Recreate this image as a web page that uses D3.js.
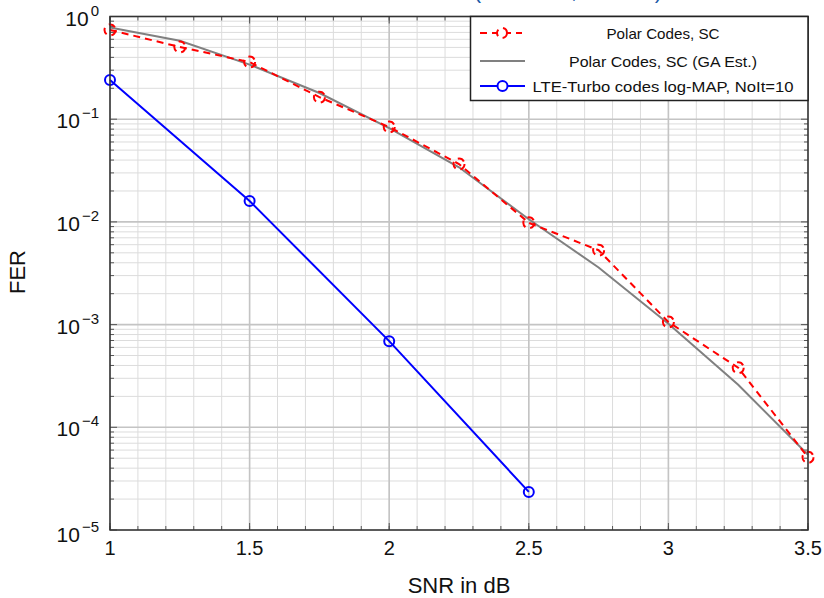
<!DOCTYPE html>
<html>
<head>
<meta charset="utf-8">
<script src="https://cdn.jsdelivr.net/npm/d3@7"></script>
<style>
  html, body { margin: 0; padding: 0; background: #fff; }
  svg { display: block; }
  text { font-family: "Liberation Sans", Arial, sans-serif; }
</style>
</head>
<body>
<svg id="chart" width="824" height="598"></svg>
<script>
// SNR points (dB)
const snrPolar = [1, 1.25, 1.5, 1.75, 2, 2.25, 2.5, 2.75, 3, 3.25, 3.5];
const ferPolarSC = [0.74, 0.505, 0.36, 0.164, 0.084, 0.0366, 0.0098, 0.0053, 0.00106, 0.00038, 0.000051];
const ferPolarGA = [0.78, 0.58, 0.34, 0.18, 0.082, 0.034, 0.0106, 0.0036, 0.00102, 0.00026, 0.000054];
const snrTurbo = [1, 1.5, 2, 2.5];
const ferTurbo = [0.241, 0.016, 0.00069, 0.0000235];

const xTicks = [1, 1.5, 2, 2.5, 3, 3.5];
const xTickLabels = ["1", "1.5", "2", "2.5", "3", "3.5"];
const yExponents = [0, -1, -2, -3, -4, -5];
const legendLabels = ["Polar Codes, SC", "Polar Codes, SC (GA Est.)", "LTE-Turbo codes log-MAP, NoIt=10"];
const legendWidths = [113, 188, 261];

const svg = d3.select("#chart");
const L = 110, R = 808, T = 16.5, B = 530;

const x = d3.scaleLinear().domain([1, 3.5]).range([L, R]);
const y = d3.scaleLog().domain([1e-5, 1]).range([B, T]);

// Title (runs off the top edge)
svg.append("text")
  .attr("x", 568).attr("y", -2)
  .attr("text-anchor", "middle")
  .attr("fill", "#1a5aa8")
  .style("font-size", "22px")
  .text("(N = 1024, R = 0.5)");

// minor grid
const xMinor = d3.range(1, 3.5001, 0.1).map(v => +v.toFixed(2));
const yMinor = [];
for (let e = -5; e < 0; e++) for (let m = 2; m <= 9; m++) yMinor.push(m * Math.pow(10, e));

const grid = svg.append("g");
grid.selectAll(".xm").data(xMinor).join("line")
  .attr("x1", d => x(d)).attr("x2", d => x(d))
  .attr("y1", T).attr("y2", B)
  .attr("stroke", "#dcdcdc").attr("stroke-width", 1);
grid.selectAll(".ym").data(yMinor).join("line")
  .attr("x1", L).attr("x2", R)
  .attr("y1", d => y(d)).attr("y2", d => y(d))
  .attr("stroke", "#dcdcdc").attr("stroke-width", 1);
// major grid
grid.selectAll(".xM").data(xTicks).join("line")
  .attr("x1", d => x(d)).attr("x2", d => x(d))
  .attr("y1", T).attr("y2", B)
  .attr("stroke", "#c4c4c4").attr("stroke-width", 1.6);
grid.selectAll(".yM").data(yExponents).join("line")
  .attr("x1", L).attr("x2", R)
  .attr("y1", d => y(Math.pow(10, d))).attr("y2", d => y(Math.pow(10, d)))
  .attr("stroke", "#c4c4c4").attr("stroke-width", 1.6);

// inner tick marks
const ticks = svg.append("g").attr("stroke", "#555").attr("stroke-width", 1);
xMinor.forEach(v => {
  ticks.append("line").attr("x1", x(v)).attr("x2", x(v)).attr("y1", B).attr("y2", B - 4);
  ticks.append("line").attr("x1", x(v)).attr("x2", x(v)).attr("y1", T).attr("y2", T + 4);
});
yMinor.forEach(v => {
  ticks.append("line").attr("x1", L).attr("x2", L + 4).attr("y1", y(v)).attr("y2", y(v));
  ticks.append("line").attr("x1", R).attr("x2", R - 4).attr("y1", y(v)).attr("y2", y(v));
});
xTicks.forEach(v => {
  ticks.append("line").attr("x1", x(v)).attr("x2", x(v)).attr("y1", B).attr("y2", B - 7);
  ticks.append("line").attr("x1", x(v)).attr("x2", x(v)).attr("y1", T).attr("y2", T + 7);
});
yExponents.forEach(e => {
  const v = Math.pow(10, e);
  ticks.append("line").attr("x1", L).attr("x2", L + 7).attr("y1", y(v)).attr("y2", y(v));
  ticks.append("line").attr("x1", R).attr("x2", R - 7).attr("y1", y(v)).attr("y2", y(v));
});

// tick labels
svg.append("g").selectAll("text").data(xTicks).join("text")
  .attr("x", d => x(d)).attr("y", 555)
  .attr("text-anchor", "middle")
  .attr("fill", "#111")
  .style("font-size", "20px")
  .text((d, i) => xTickLabels[i]);

const yl = svg.append("g").selectAll("text").data(yExponents).join("text")
  .attr("x", 99).attr("y", d => y(Math.pow(10, d)) + (d === -5 ? 12 : 9))
  .attr("text-anchor", "end")
  .attr("fill", "#111")
  .style("font-size", "21px");
yl.append("tspan").text("10");
yl.append("tspan").attr("dy", -10).attr("dx", 2).style("font-size", "15px")
  .text(d => d === 0 ? "0" : "\u2212" + (-d));

// axis titles
svg.append("text").attr("x", 459).attr("y", 593)
  .attr("text-anchor", "middle").attr("fill", "#111")
  .style("font-size", "22px").text("SNR in dB");
svg.append("text")
  .attr("transform", "translate(25,272) rotate(-90)")
  .attr("text-anchor", "middle").attr("fill", "#111")
  .style("font-size", "22px").text("FER");

// series
const line = d3.line().x(d => x(d[0])).y(d => y(d[1]));
const plot = svg.append("g");

plot.append("path")
  .datum(snrPolar.map((s, i) => [s, ferPolarGA[i]]))
  .attr("d", line).attr("fill", "none")
  .attr("stroke", "#808080").attr("stroke-width", 2);

const polarSC = snrPolar.map((s, i) => [s, ferPolarSC[i]]);
plot.append("path")
  .datum(polarSC)
  .attr("d", line).attr("fill", "none")
  .attr("stroke", "#ff0000").attr("stroke-width", 2)
  .attr("stroke-dasharray", "7,5");
plot.selectAll(".rm").data(polarSC).join("circle")
  .attr("cx", d => x(d[0])).attr("cy", d => y(d[1])).attr("r", 5.5)
  .attr("fill", "none").attr("stroke", "#ff0000").attr("stroke-width", 2)
  .attr("stroke-dasharray", "7,5");

const turbo = snrTurbo.map((s, i) => [s, ferTurbo[i]]);
plot.append("path")
  .datum(turbo)
  .attr("d", line).attr("fill", "none")
  .attr("stroke", "#0000ff").attr("stroke-width", 2);
plot.selectAll(".bm").data(turbo).join("circle")
  .attr("cx", d => x(d[0])).attr("cy", d => y(d[1])).attr("r", 5)
  .attr("fill", "none").attr("stroke", "#0000ff").attr("stroke-width", 2);

// frame
svg.append("rect").attr("x", L).attr("y", T).attr("width", R - L).attr("height", B - T)
  .attr("fill", "none").attr("stroke", "#333").attr("stroke-width", 1.5);

// legend
const lg = svg.append("g");
lg.append("rect").attr("x", 470.5).attr("y", T).attr("width", R - 470.5).attr("height", 84)
  .attr("fill", "#fff").attr("stroke", "#222").attr("stroke-width", 1.5);
const rows = [33, 61, 86];
// red sample
lg.append("line").attr("x1", 480).attr("x2", 522).attr("y1", rows[0]).attr("y2", rows[0])
  .attr("stroke", "#ff0000").attr("stroke-width", 2).attr("stroke-dasharray", "7,5");
lg.append("circle").attr("cx", 502).attr("cy", rows[0]).attr("r", 5)
  .attr("fill", "#fff").attr("stroke", "#ff0000").attr("stroke-width", 2).attr("stroke-dasharray", "7,5");
// gray sample
lg.append("line").attr("x1", 480).attr("x2", 525).attr("y1", rows[1]).attr("y2", rows[1])
  .attr("stroke", "#808080").attr("stroke-width", 2);
// blue sample
lg.append("line").attr("x1", 480).attr("x2", 525).attr("y1", rows[2]).attr("y2", rows[2])
  .attr("stroke", "#0000ff").attr("stroke-width", 2);
lg.append("circle").attr("cx", 502.5).attr("cy", rows[2]).attr("r", 5)
  .attr("fill", "#fff").attr("stroke", "#0000ff").attr("stroke-width", 2);
lg.selectAll(".lt").data(legendLabels).join("text")
  .attr("x", 663).attr("y", (d, i) => rows[i] + 5.5)
  .attr("text-anchor", "middle").attr("fill", "#111")
  .attr("textLength", (d, i) => legendWidths[i])
  .attr("lengthAdjust", "spacingAndGlyphs")
  .style("font-size", "15px")
  .text(d => d);
</script>
</body>
</html>
